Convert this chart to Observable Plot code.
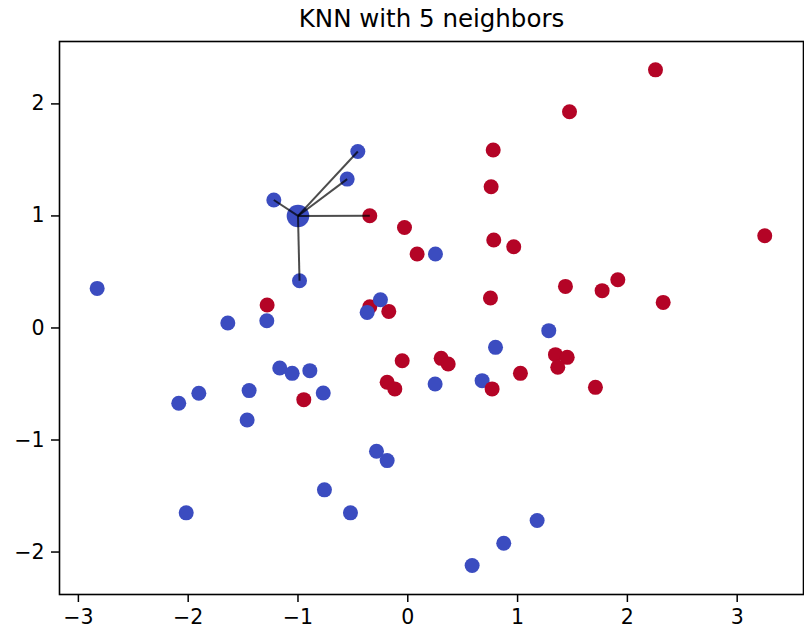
<!DOCTYPE html>
<html>
<head>
<meta charset="utf-8">
<script src="https://cdn.jsdelivr.net/npm/d3@7"></script>
<script src="https://cdn.jsdelivr.net/npm/@observablehq/plot@0.6"></script>
<style>
  html, body { margin: 0; padding: 0; background: #fff; }
</style>
</head>
<body>
<div id="chart"></div>
<script>
// ---- data ----
const pointX = [
  // class 1 (red)
  2.256, 1.473, 0.778, 0.759, -0.346, -0.030, 0.783, 0.965, 0.085, 3.251,
  -1.281, -0.346, -0.173, 0.753, 1.436, 1.770, 1.913, 2.326, -0.051, 0.304,
  0.368, 1.345, 1.452, 1.366, 1.026, -0.188, -0.118, 1.709, -0.947,
  // class 0 (blue)
  -2.829, -1.639, -1.284, -1.166, -1.053, -0.892, -1.903, -2.086, -1.445, -1.463,
  -0.770, -0.285, -0.188, -0.759, -0.522, -2.018, 1.178, 0.874, 0.586, -1.220,
  -0.455, -0.552, -0.986, 0.252, -0.249, -0.370, 1.284, 0.799, 0.249, 0.677,
  // class 1 (red), drawn last
  0.768
];
const pointY = [
  2.304, 1.930, 1.588, 1.260, 1.002, 0.897, 0.785, 0.725, 0.660, 0.823,
  0.205, 0.190, 0.148, 0.268, 0.371, 0.333, 0.431, 0.228, -0.292, -0.271,
  -0.321, -0.238, -0.262, -0.351, -0.405, -0.485, -0.544, -0.530, -0.640,
  0.353, 0.045, 0.065, -0.357, -0.405, -0.381, -0.583, -0.672, -0.559, -0.821,
  -0.580, -1.101, -1.184, -1.445, -1.650, -1.650, -1.719, -1.921, -2.120, 1.142,
  1.575, 1.329, 0.422, 0.660, 0.252, 0.139, -0.024, -0.173, -0.500, -0.470,
  -0.544
];
const pointClass = [
  1,1,1,1,1,1,1,1,1,1, 1,1,1,1,1,1,1,1,1,1, 1,1,1,1,1,1,1,1,1,
  0,0,0,0,0,0,0,0,0,0, 0,0,0,0,0,0,0,0,0,0, 0,0,0,0,0,0,0,0,0,0,
  1
];
const classColors = ["#3b4cc0", "#b40426"];
const queryX = -1.0;
const queryY = 1.0;
const kNeighbors = 5;
const xTicks = [-3, -2, -1, 0, 1, 2, 3];
const yTicks = [-2, -1, 0, 1, 2];
const chartTitle = "KNN with 5 neighbors";

// ---- derived tables ----
const points = pointX.map((x, i) => ({x, y: pointY[i], cls: pointClass[i]}));
const neighbors = points
  .map(p => ({...p, d: Math.hypot(p.x - queryX, p.y - queryY)}))
  .sort((a, b) => a.d - b.d)
  .slice(0, kNeighbors);
const votes = d3.rollup(neighbors, v => v.length, d => d.cls);
const predicted = (votes.get(1) || 0) > (votes.get(0) || 0) ? 1 : 0;
const query = [{x: queryX, y: queryY, cls: predicted}];

const font = "DejaVu Sans, sans-serif";
const intFormat = d3.format("d");

const chart = Plot.plot({
  width: 804,
  height: 631,
  marginTop: 41,
  marginBottom: 37,
  marginLeft: 59,
  marginRight: 1,
  style: {fontFamily: font, background: "#fff", color: "#000"},
  x: {domain: [-3.172, 3.604]},
  y: {domain: [-2.379, 2.557]},
  color: {type: "identity"},
  marks: [
    Plot.dot(points, {
      x: "x", y: "y", r: 7.5,
      fill: d => classColors[d.cls], stroke: "none"
    }),
    Plot.dot(query, {
      x: "x", y: "y", r: 11.3,
      fill: d => classColors[d.cls], stroke: "none"
    }),
    Plot.link(neighbors, {
      x1: () => queryX, y1: () => queryY, x2: "x", y2: "y",
      stroke: "#000", strokeOpacity: 0.7, strokeWidth: 2
    }),
    Plot.frame({stroke: "#000", strokeWidth: 1.6}),
    Plot.axisX({
      ticks: xTicks, tickFormat: intFormat, tickSize: 8, tickPadding: 7, fontSize: 20.5,
      label: null, stroke: "#000", strokeWidth: 1.5
    }),
    Plot.axisY({
      ticks: yTicks, tickFormat: intFormat, tickSize: 8, tickPadding: 7, fontSize: 20.5,
      label: null, stroke: "#000", strokeWidth: 1.5
    }),
    Plot.text([chartTitle], {
      frameAnchor: "top", lineAnchor: "bottom", dy: -14.5,
      text: d => d, fontSize: 24.5, fill: "#000"
    })
  ]
});

document.getElementById("chart").appendChild(chart);
</script>
</body>
</html>
